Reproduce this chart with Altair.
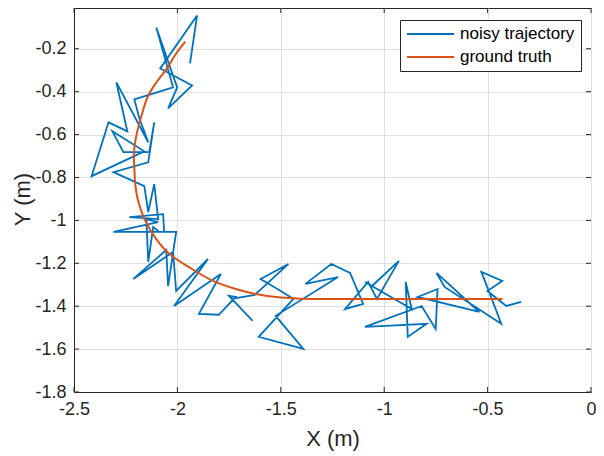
import altair as alt
import pandas as pd

# ---- data ----
series_names = ["noisy trajectory", "ground truth"]
series_colors = ["#0072BD", "#D95319"]

noisy_x = [-1.939, -1.905, -2.083, -1.929, -2.045, -2.001, -2.102, -2.021, -2.208, -2.184,
           -2.141, -2.295, -2.242, -2.333, -2.415, -2.160, -2.314, -2.261, -2.136, -2.112,
           -2.141, -2.309, -2.160, -2.141, -2.112, -2.093, -2.232, -2.069, -2.064, -2.309,
           -2.093, -2.150, -2.141, -2.117, -2.088, -2.006, -2.045, -2.054, -2.213, -2.021,
           -2.006, -1.852, -2.016, -1.790, -1.896, -1.800, -1.718, -1.751, -1.636, -1.737,
           -1.626, -1.463, -1.598, -1.516, -1.439, -1.607, -1.391, -1.525, -1.223, -1.381,
           -1.256, -1.165, -1.102, -1.189, -1.078, -1.035, -0.929, -1.059, -1.093, -0.867,
           -0.896, -0.886, -0.795, -1.093, -0.819, -0.751, -0.742, -0.838, -0.540, -0.747,
           -0.708, -0.434, -0.530, -0.429, -0.501, -0.410, -0.338]
noisy_y = [-0.268, -0.045, -0.292, -0.371, -0.478, -0.380, -0.101, -0.380, -0.436, -0.524,
           -0.636, -0.357, -0.585, -0.543, -0.794, -0.678, -0.585, -0.682, -0.682, -0.543,
           -0.729, -0.775, -0.840, -0.961, -0.831, -0.994, -0.985, -0.971, -1.054, -1.054,
           -1.008, -0.994, -1.194, -1.031, -1.054, -1.054, -1.306, -1.138, -1.273, -1.147,
           -1.329, -1.180, -1.399, -1.250, -1.436, -1.440, -1.357, -1.352, -1.468, -1.366,
           -1.347, -1.203, -1.273, -1.320, -1.366, -1.543, -1.599, -1.445, -1.264, -1.296,
           -1.203, -1.245, -1.389, -1.413, -1.287, -1.366, -1.189, -1.306, -1.287, -1.413,
           -1.287, -1.543, -1.482, -1.496, -1.399, -1.506, -1.320, -1.357, -1.427, -1.245,
           -1.310, -1.482, -1.240, -1.282, -1.329, -1.399, -1.380]

truth_x = [-1.962, -2.010, -2.054, -2.100, -2.142, -2.174, -2.202, -2.210, -2.208, -2.203,
           -2.190, -2.159, -2.102, -2.038, -1.942, -1.830, -1.718, -1.622, -1.500, -1.400,
           -1.190, -0.800, -0.428]
truth_y = [-0.167, -0.228, -0.296, -0.355, -0.420, -0.513, -0.622, -0.684, -0.760, -0.839,
           -0.909, -0.994, -1.087, -1.157, -1.219, -1.281, -1.320, -1.343, -1.360, -1.365,
           -1.366, -1.366, -1.366]

x_ticks = [-2.5, -2, -1.5, -1, -0.5, 0]
y_ticks = [-1.8, -1.6, -1.4, -1.2, -1, -0.8, -0.6, -0.4, -0.2]

noisy = pd.DataFrame({"x": noisy_x, "y": noisy_y, "series": series_names[0],
                      "order": list(range(len(noisy_x)))})
truth = pd.DataFrame({"x": truth_x, "y": truth_y, "series": series_names[1],
                      "order": list(range(len(truth_x)))})
xt = pd.DataFrame({"x": x_ticks})
yt = pd.DataFrame({"y": y_ticks})

FONT = "Liberation Sans"
INK = "#262626"
W, H = 517, 384
TL = 5  # inward tick length (px)

x_enc = alt.X("x:Q",
              scale=alt.Scale(domain=[-2.5, 0], nice=False, zero=False),
              axis=alt.Axis(values=x_ticks, title="X (m)", labelExpr="'' + datum.value",
                            labelFlush=False,
                            titleY=46, titleX=W / 2, titleBaseline="middle"))
y_enc = alt.Y("y:Q",
              scale=alt.Scale(domain=[-1.8, -0.01], nice=False, zero=False),
              axis=alt.Axis(values=y_ticks, title="Y (m)", labelExpr="'' + datum.value",
                            labelFlush=False,
                            titleX=-52, titleY=191, titleAlign="center",
                            titleBaseline="middle"))
color_enc = alt.Color("series:N",
                      scale=alt.Scale(domain=series_names, range=series_colors),
                      legend=alt.Legend(title=None, orient="none", legendX=W - 191, legendY=12,
                                        symbolType="stroke", symbolSize=2209,
                                        symbolStrokeWidth=1.8, clipHeight=16,
                                        rowPadding=6, labelFontSize=17, labelFont=FONT,
                                        labelColor="#000000", labelOffset=5, padding=6,
                                        labelExpr="datum.label + '  '",
                                        strokeColor=INK, fillColor="white"))

noisy_layer = alt.Chart(noisy).mark_line(strokeWidth=1.8).encode(
    x=x_enc, y=y_enc, color=color_enc, order="order:Q")
truth_layer = alt.Chart(truth).mark_line(strokeWidth=2, interpolate="catmull-rom").encode(
    x=x_enc, y=y_enc, color=color_enc, order="order:Q")

# MATLAB-style inward ticks on all four sides of the box
tick_bottom = alt.Chart(xt).mark_rule(color=INK, strokeWidth=1).encode(
    x=x_enc, y=alt.value(H), y2=alt.value(H - TL))
tick_top = alt.Chart(xt).mark_rule(color=INK, strokeWidth=1).encode(
    x=x_enc, y=alt.value(0), y2=alt.value(TL))
tick_left = alt.Chart(yt).mark_rule(color=INK, strokeWidth=1).encode(
    y=y_enc, x=alt.value(0), x2=alt.value(TL))
tick_right = alt.Chart(yt).mark_rule(color=INK, strokeWidth=1).encode(
    y=y_enc, x=alt.value(W), x2=alt.value(W - TL))

chart = alt.layer(noisy_layer, truth_layer, tick_bottom, tick_top, tick_left, tick_right).properties(
    width=W, height=H,
    autosize=alt.AutoSizeParams(type="none"),
    padding={"left": 66, "top": 0, "right": 5, "bottom": 64},
).configure_view(
    stroke=INK, strokeWidth=1
).configure_axis(
    labelFont=FONT, labelFontSize=18, labelColor=INK, labelPadding=8,
    titleFont=FONT, titleFontSize=22, titleFontWeight="normal", titleColor=INK,
    ticks=False, domainColor=INK, gridColor="#dfdfdf", gridWidth=1
)

chart.save("out.html", embed_options={"renderer": "svg", "actions": False})
